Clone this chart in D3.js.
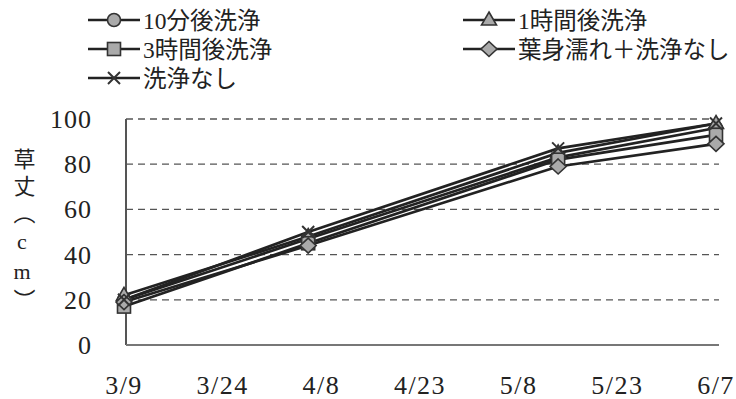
<!DOCTYPE html>
<html><head><meta charset="utf-8">
<script src="https://cdn.jsdelivr.net/npm/d3@7"></script>
<style>body{margin:0;background:#fff}svg{display:block}</style>
</head><body>
<svg id="c" width="736" height="399"></svg>
<script>
const dates = ["2000-03-09","2000-04-06","2000-05-14","2000-06-07"];
const seriesNames = ["10分後洗浄","1時間後洗浄","3時間後洗浄","葉身濡れ＋洗浄なし","洗浄なし"];
const s10min = [20, 47, 83, 96];
const s1hour = [22, 48, 85, 98];
const s3hour = [17, 45, 82, 93];
const sWet   = [19, 44, 79, 89];
const sNone  = [20, 50, 87, 98];
const markers = ["circle","triangle","square","diamond","cross"];
const xTickLabels = ["3/9","3/24","4/8","4/23","5/8","5/23","6/7"];
const yTicks = [0,20,40,60,80,100];
const yTitleText = "草丈（cm）";

const values = [s10min, s1hour, s3hour, sWet, sNone];
const parse = d3.timeParse("%Y-%m-%d");
const svg = d3.select("#c");
const fontSerif = "'Liberation Serif', 'Times New Roman', 'Noto Sans CJK JP', serif";

const L = 126, R = 719, T = 119, B = 345;
const x = d3.scaleTime().domain([parse("2000-03-09"), parse("2000-06-07")]).range([124, 716]);
const y = d3.scaleLinear().domain([0,100]).range([B, T]);

// gridlines
svg.append("g").selectAll("line").data(yTicks.filter(v=>v>0)).join("line")
  .attr("x1", L).attr("x2", R).attr("y1", d=>y(d)).attr("y2", d=>y(d))
  .attr("stroke","#555").attr("stroke-width",1.3).attr("stroke-dasharray","7,5");

// axes lines
svg.append("line").attr("x1",L).attr("x2",L).attr("y1",T).attr("y2",B).attr("stroke","#555").attr("stroke-width",2);
svg.append("line").attr("x1",L).attr("x2",R).attr("y1",B).attr("y2",B).attr("stroke","#777").attr("stroke-width",2);

// y tick labels
svg.append("g").selectAll("text").data(yTicks).join("text")
  .attr("x", 92).attr("y", d=>y(d)+9).attr("text-anchor","end")
  .style("font-family", fontSerif).attr("font-size",26).attr("letter-spacing",1).attr("fill","#222").text(d=>d);

// x tick labels
const xTickDates = xTickLabels.map((t,i)=> d3.timeDay.offset(parse("2000-03-09"), i*15));
svg.append("g").selectAll("text").data(xTickLabels).join("text")
  .attr("x", (d,i)=>x(xTickDates[i])).attr("y", 394).attr("text-anchor","middle")
  .style("font-family", fontSerif).attr("font-size",26).attr("letter-spacing",1.5).attr("fill","#222").text(d=>d);

// y title vertical (single text)
svg.append("text").attr("x", 22).attr("y", 148)
  .style("writing-mode","vertical-rl").style("text-orientation","upright")
  .style("font-family", fontSerif).attr("font-size",22).attr("letter-spacing",5)
  .attr("fill","#222").text(yTitleText);

// marker drawing
function drawMarker(g, type, cx, cy) {
  const stroke = "#333", fill = "#aaa";
  if (type==="circle") g.append("circle").attr("cx",cx).attr("cy",cy).attr("r",6.5).attr("fill",fill).attr("stroke",stroke).attr("stroke-width",1.6);
  else if (type==="triangle") g.append("path").attr("d",`M${cx},${cy-8}L${cx+7.5},${cy+5}L${cx-7.5},${cy+5}Z`).attr("fill",fill).attr("stroke",stroke).attr("stroke-width",1.6);
  else if (type==="square") g.append("rect").attr("x",cx-6.5).attr("y",cy-6.5).attr("width",13).attr("height",13).attr("fill",fill).attr("stroke",stroke).attr("stroke-width",1.6);
  else if (type==="diamond") g.append("path").attr("d",`M${cx},${cy-7.5}L${cx+8},${cy}L${cx},${cy+7.5}L${cx-8},${cy}Z`).attr("fill",fill).attr("stroke",stroke).attr("stroke-width",1.6);
  else if (type==="cross") g.append("path").attr("d",`M${cx-6},${cy-6}L${cx+6},${cy+6}M${cx+6},${cy-6}L${cx-6},${cy+6}`).attr("stroke",stroke).attr("stroke-width",2);
}

// lines
const line = d3.line().x((d,i)=>x(parse(dates[i]))).y(d=>y(d));
values.forEach((vals,k)=>{
  svg.append("path").attr("d", line(vals)).attr("fill","none").attr("stroke","#222").attr("stroke-width",2.7);
});
values.forEach((vals,k)=>{
  const g = svg.append("g");
  vals.forEach((v,i)=> drawMarker(g, markers[k], x(parse(dates[i])), y(v)));
});

// legend
const legPos = [[88,20],[463,20],[88,49],[463,49],[88,78]];
seriesNames.forEach((name,s)=>{
  const [lx,ly] = legPos[s];
  const g = svg.append("g");
  g.append("line").attr("x1",lx).attr("x2",lx+52).attr("y1",ly).attr("y2",ly).attr("stroke","#222").attr("stroke-width",2.7);
  drawMarker(g, markers[s], lx+26, ly);
  g.append("text").attr("x", lx+55).attr("y", ly+8.5).style("font-family", fontSerif)
    .attr("font-size",23.5).attr("fill","#222").text(name);
});
</script>
</body></html>
